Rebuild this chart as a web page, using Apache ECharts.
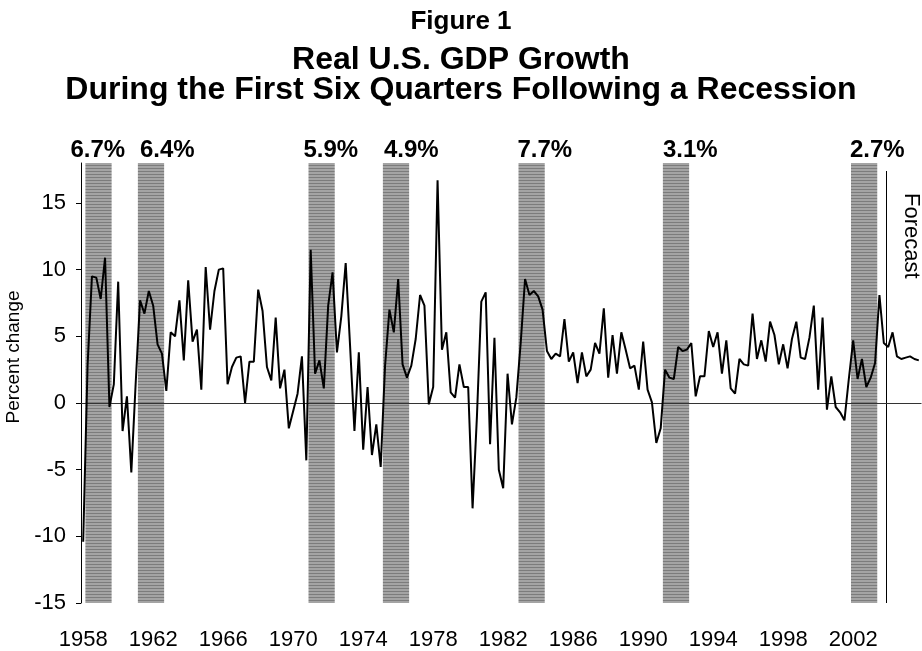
<!DOCTYPE html>
<html>
<head>
<meta charset="utf-8">
<script src="https://cdn.jsdelivr.net/npm/echarts@6/dist/echarts.min.js"></script>
<style>
  html, body { margin: 0; padding: 0; background: #fff; }
  #chartBox { width: 922px; height: 651px; }
</style>
</head>
<body>
<div id="chartBox"></div>
<script>
// quarters 1958Q1 .. 2005Q4
const quarters = []
for (let y = 1958; y <= 2005; y++) {
  for (let q = 1; q <= 4; q++) quarters.push(y + 'Q' + q)
}

// real GDP growth, annualized percent change
const gdpGrowth = [
  -10.4, 2.8, 9.5, 9.4, 7.8, 10.9, -0.3, 1.4, 9.1, -2.1,
  0.5, -5.2, 1.5, 7.7, 6.7, 8.4, 7.3, 4.4, 3.7, 0.9,
  5.3, 5.0, 7.7, 3.2, 9.2, 4.6, 5.5, 1.0, 10.2, 5.5,
  8.4, 10.0, 10.1, 1.4, 2.7, 3.4, 3.5, 0.0, 3.1, 3.1,
  8.5, 6.9, 2.7, 1.7, 6.4, 1.1, 2.5, -1.9, -0.6, 0.7,
  3.5, -4.3, 11.5, 2.2, 3.2, 1.1, 7.3, 9.8, 3.8, 6.5,
  10.5, 4.3, -2.1, 3.8, -3.5, 1.2, -3.9, -1.6, -4.8, 2.8,
  7.0, 5.3, 9.3, 2.9, 1.9, 2.8, 4.8, 8.1, 7.3, -0.1,
  1.2, 16.7, 4.0, 5.3, 0.8, 0.4, 2.9, 1.2, 1.2, -7.9,
  -1.0, 7.6, 8.3, -3.1, 4.9, -5.0, -6.4, 2.2, -1.6, 0.4,
  4.5, 9.3, 8.1, 8.4, 8.0, 7.0, 3.9, 3.3, 3.7, 3.5,
  6.3, 3.1, 3.8, 1.5, 3.8, 2.0, 2.5, 4.5, 3.7, 7.1,
  1.9, 5.1, 2.2, 5.3, 4.0, 2.6, 2.8, 1.0, 4.6, 1.0,
  0.05, -3.0, -1.9, 2.5, 1.9, 1.8, 4.2, 3.9, 4.0, 4.5,
  0.5, 2.0, 2.0, 5.4, 4.2, 5.3, 2.2, 4.7, 1.1, 0.7,
  3.3, 2.9, 2.8, 6.7, 3.3, 4.7, 3.1, 6.1, 5.1, 2.9,
  4.4, 2.6, 4.8, 6.1, 3.4, 3.3, 4.9, 7.3, 1.0, 6.4,
  -0.5, 2.0, -0.3, -0.7, -1.3, 1.8, 4.7, 1.8, 3.3, 1.2,
  1.9, 3.0, 8.1, 4.5, 4.2, 5.3, 3.5, 3.3, 3.4, 3.5,
  3.3, 3.2
]

// first quarter of each six-quarter recovery and its average growth
const recoveryStart = ['1958Q2', '1961Q2', '1971Q1', '1975Q2', '1983Q1', '1991Q2', '2002Q1']
const recoveryGrowth = ['6.7%', '6.4%', '5.9%', '4.9%', '7.7%', '3.1%', '2.7%']
const recoveryLen = 6
const forecastFrom = '2004Q1'

const yTicks = [-15, -10, -5, 0, 5, 10, 15]

// small horizontal nudges of the growth labels (px)
const labelShift = [-15, 2, -5, 1, -1, 0, -1]

// striped gray fill like the original shading
const makeStripes = () => {
  const c = document.createElement('canvas')
  c.width = 4
  c.height = 3
  const ctx = c.getContext('2d')
  ctx.fillStyle = '#a4a4a4'
  ctx.fillRect(0, 0, 4, 3)
  ctx.fillStyle = '#7c7c7c'
  ctx.fillRect(0, 0, 4, 1)
  return c
}

const chart = echarts.init(document.getElementById('chartBox'), null, { renderer: 'canvas' })

const font = '"Liberation Sans", Arial, sans-serif'

const areas = recoveryStart.map((q, k) => {
  const i = quarters.indexOf(q)
  return [
    {
      xAxis: i,
      label: {
        show: true,
        formatter: recoveryGrowth[k],
        position: [labelShift[k], -1],
        align: 'left',
        verticalAlign: 'bottom'
      }
    },
    { xAxis: i + recoveryLen }
  ]
})

const fIdx = quarters.indexOf(forecastFrom)

const titleStyle = size => ({ fontSize: size, fontWeight: 'bold', color: '#000', fontFamily: font })

const option = {
  animation: false,
  textStyle: { fontFamily: font },
  title: [
    { text: 'Figure 1', left: 'center', top: 4, textStyle: titleStyle(26) },
    { text: 'Real U.S. GDP Growth', left: 'center', top: 39, textStyle: titleStyle(32) },
    { text: 'During the First Six Quarters Following a Recession', left: 'center', top: 69, textStyle: titleStyle(32) }
  ],
  grid: { left: 81, right: 1, top: 163, bottom: 46, containLabel: false },
  xAxis: [
    {
      type: 'category',
      data: quarters,
      boundaryGap: true,
      axisLine: { lineStyle: { color: '#000', width: 1 } },
      axisTick: { interval: 15, length: 7, lineStyle: { color: '#000' } },
      axisLabel: {
        interval: 15,
        margin: 26,
        fontSize: 22,
        color: '#000',
        formatter: v => v.slice(0, 4)
      },
      splitLine: { show: false }
    },
    { type: 'value', min: 0, max: quarters.length, show: false }
  ],
  yAxis: {
    type: 'value',
    min: -15,
    max: 18,
    interval: 5,
    axisLine: { show: true, lineStyle: { color: '#000' } },
    axisTick: { show: true, length: 5, customValues: yTicks, lineStyle: { color: '#000' } },
    axisLabel: { fontSize: 22, color: '#000', margin: 15, customValues: yTicks },
    splitLine: { show: false }
  },
  series: [
    {
      name: 'recoveries',
      type: 'line',
      xAxisIndex: 1,
      data: [],
      silent: true,
      markArea: {
        silent: true,
        itemStyle: { color: { image: makeStripes(), repeat: 'repeat' } },
        label: { fontSize: 24, fontWeight: 'bold', color: '#000', fontFamily: font },
        data: areas
      },
      markLine: {
        silent: true,
        symbol: 'none',
        label: { show: false },
        lineStyle: { color: '#000', width: 1, type: 'solid' },
        data: [
          [{ coord: [fIdx, 17.4] }, { coord: [fIdx, -15] }]
        ]
      }
    },
    {
      name: 'Real GDP growth',
      type: 'line',
      data: gdpGrowth,
      symbol: 'none',
      z: 5,
      lineStyle: { color: '#000', width: 2 },
      markLine: {
        silent: true,
        symbol: 'none',
        label: { show: false },
        lineStyle: { color: '#333', width: 1, type: 'solid' },
        data: [{ yAxis: 0 }]
      }
    }
  ],
  graphic: [
    {
      type: 'text',
      x: 900,
      y: 193,
      rotation: -Math.PI / 2,
      style: { text: 'Forecast', fontSize: 22, fill: '#000', fontFamily: font, textAlign: 'left', textVerticalAlign: 'bottom' }
    },
    {
      type: 'text',
      x: 14,
      y: 357,
      rotation: Math.PI / 2,
      style: { text: 'Percent change', fontSize: 19, fill: '#000', fontFamily: font, textAlign: 'center', textVerticalAlign: 'middle' }
    }
  ]
}

chart.setOption(option)
</script>
</body>
</html>
